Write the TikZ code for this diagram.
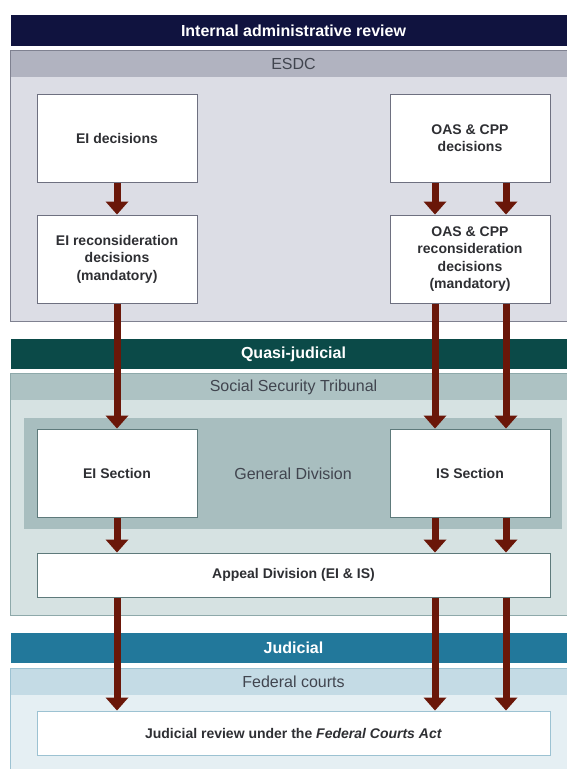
\documentclass[tikz,border=0pt]{standalone}
\usepackage{fontspec}
\setmainfont{Liberation Sans}
\usetikzlibrary{arrows.meta}
\definecolor{navy}{HTML}{10133F}
\definecolor{esdchead}{HTML}{B1B3C0}
\definecolor{esdcfill}{HTML}{DCDDE5}
\definecolor{esdcline}{HTML}{7F8190}
\definecolor{boxline}{HTML}{6E7080}
\definecolor{tealband}{HTML}{0B4A48}
\definecolor{ssthead}{HTML}{ADC2C3}
\definecolor{sstfill}{HTML}{D6E2E2}
\definecolor{gendiv}{HTML}{A8BEBF}
\definecolor{sstline}{HTML}{8EA9AA}
\definecolor{secline}{HTML}{5E7A7B}
\definecolor{blueband}{HTML}{22789B}
\definecolor{fedhead}{HTML}{C4DBE5}
\definecolor{fedfill}{HTML}{E5EFF3}
\definecolor{fedline}{HTML}{9CC2D2}
\definecolor{arrowred}{HTML}{6A1709}
\definecolor{boxtext}{HTML}{2E2F33}
\definecolor{headtext}{HTML}{41454F}
\begin{document}
\begin{tikzpicture}[x=1pt,y=1pt,
  band/.style={rectangle, inner sep=0pt, minimum width=565pt, minimum height=31pt,
    text=white, font=\bfseries\fontsize{16}{19}\selectfont},
  panel/.style={rectangle, inner sep=0pt, minimum width=565pt, line width=1.2pt},
  head/.style={rectangle, inner sep=0pt, minimum width=565pt, minimum height=26pt,
    text=headtext, font=\fontsize{16}{19}\selectfont},
  box/.style={rectangle, fill=white, inner sep=0pt, line width=1pt, align=center,
    text=boxtext, font=\bfseries\fontsize{14}{17.5}\selectfont},
  smallbox/.style={box, minimum width=160pt, minimum height=88pt},
  widebox/.style={box, minimum width=513pt, minimum height=44pt},
  arr/.style={draw=arrowred, line width=7pt,
    -{Triangle[width=23pt,length=13pt,line width=0pt]}}
]
\useasboundingbox (0,0) rectangle (567,-769);
\clip (0,0) rectangle (567,-769);
\fill[white] (0,0) rectangle (567,-769);

\coordinate (cA) at (117,0);
\coordinate (cB) at (435,0);
\coordinate (cC) at (506,0);

% ---------- Internal administrative review ----------
\node[band, fill=navy] (iar) at (293.5,-30.5) {Internal administrative review};
\node[panel, fill=esdcfill, minimum height=270pt] (esdcp) at (293.5,-186) {};
\node[head, fill=esdchead] (esdch) at (293.5,-64) {ESDC};
\draw[esdcline, line width=1.2pt] (esdcp.north west) rectangle (esdcp.south east);

\node[smallbox, draw=boxline] (eidec) at (117,-138) {EI decisions};
\node[smallbox, draw=boxline] (eirec) at (117,-259) {EI reconsideration\\decisions\\(mandatory)};
\node[smallbox, draw=boxline] (oasdec) at (470,-138) {OAS \& CPP\\decisions};
\node[smallbox, draw=boxline] (oasrec) at (470,-259) {OAS \& CPP\\reconsideration\\decisions\\(mandatory)};

% ---------- Quasi-judicial ----------
\node[band, fill=tealband, minimum height=30pt] (qj) at (293.5,-354) {Quasi-judicial};
\node[panel, fill=sstfill, minimum height=241pt] (sstp) at (293.5,-494.5) {};
\node[head, fill=ssthead] (ssth) at (293.5,-387) {Social Security Tribunal};
\draw[sstline, line width=1.2pt] (sstp.north west) rectangle (sstp.south east);
\node[rectangle, fill=gendiv, inner sep=0pt, minimum width=538pt, minimum height=111pt,
  text=headtext, font=\fontsize{16}{19}\selectfont] (gd) at (293,-473.5) {General Division};
\node[smallbox, draw=secline] (eisec) at (117,-473) {EI Section};
\node[smallbox, draw=secline] (issec) at (470,-473) {IS Section};
\node[widebox, draw=secline] (appeal) at (293.5,-575) {Appeal Division (EI \& IS)};

% ---------- Judicial ----------
\node[band, fill=blueband, minimum height=30pt] (jud) at (293.5,-648) {Judicial};
\node[panel, fill=fedfill, minimum height=111pt] (fedp) at (293.5,-724.5) {};
\node[head, fill=fedhead] (fedh) at (293.5,-682) {Federal courts};
\draw[fedline, line width=1.2pt] (fedp.north west) rectangle (fedp.south east);
\node[widebox, draw=fedline] (jr) at (293.5,-733) {Judicial review under the \textit{Federal Courts Act}};

% ---------- Arrows ----------
\draw[arr] (eidec.south -| cA) -- (eirec.north -| cA);
\draw[arr] (oasdec.south -| cB) -- (oasrec.north -| cB);
\draw[arr] (oasdec.south -| cC) -- (oasrec.north -| cC);

\draw[arr] (eirec.south -| cA) -- (eisec.north -| cA);
\draw[arr] (oasrec.south -| cB) -- (issec.north -| cB);
\draw[arr] (oasrec.south -| cC) -- (issec.north -| cC);

\draw[arr] (eisec.south -| cA) -- (appeal.north -| cA);
\draw[arr] (issec.south -| cB) -- (appeal.north -| cB);
\draw[arr] (issec.south -| cC) -- (appeal.north -| cC);

\draw[arr] (appeal.south -| cA) -- (jr.north -| cA);
\draw[arr] (appeal.south -| cB) -- (jr.north -| cB);
\draw[arr] (appeal.south -| cC) -- (jr.north -| cC);
\end{tikzpicture}
\end{document}
